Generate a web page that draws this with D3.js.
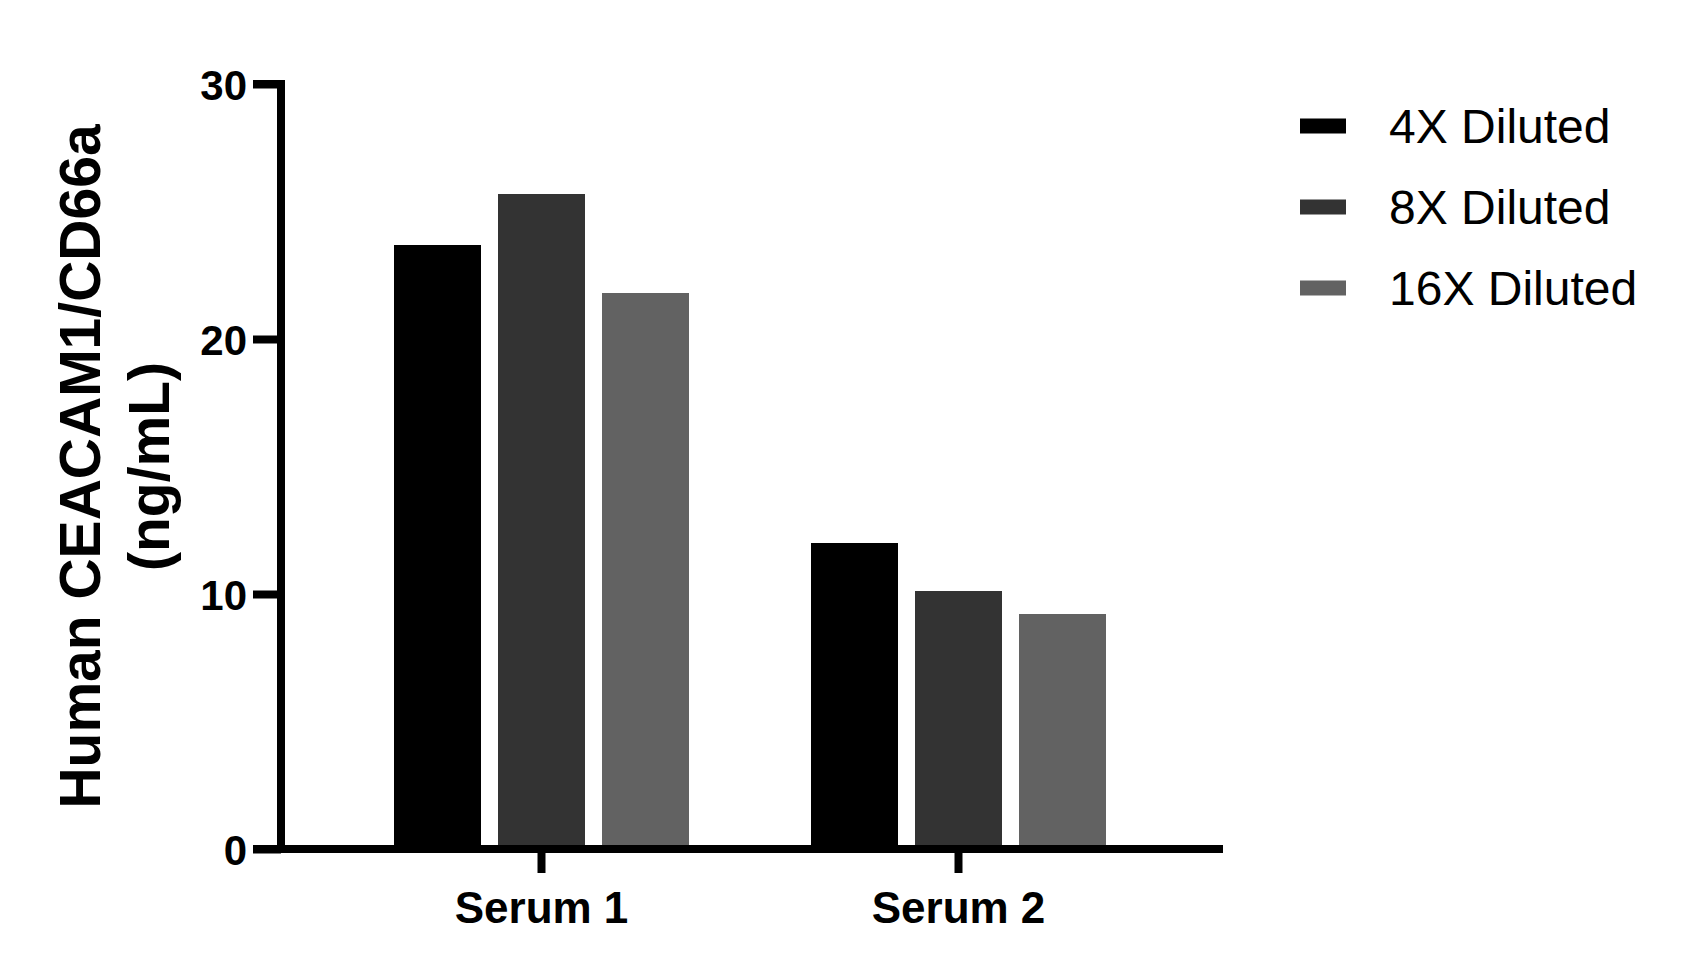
<!DOCTYPE html>
<html>
<head>
<meta charset="utf-8">
<script src="https://cdn.jsdelivr.net/npm/d3@7"></script>
<style>
    html, body { margin: 0; padding: 0; background: #fff; }
    svg text { font-family: Arial, "Liberation Sans", sans-serif; fill: #000; }
</style>
</head>
<body>
<div id="chart"></div>
<script>
// data
const categories = ["Serum 1", "Serum 2"]
const seriesNames = ["4X Diluted", "8X Diluted", "16X Diluted"]
const diluted4x = [23.7, 12.0]
const diluted8x = [25.7, 10.1]
const diluted16x = [21.8, 9.2]
const yTicks = [0, 10, 20, 30]
const colors = ["#000000", "#333333", "#626262"]

const seriesValues = [diluted4x, diluted8x, diluted16x]
const rows = categories.map((c, i) => ({
    category: c,
    values: seriesNames.map((s, j) => ({ key: s, value: seriesValues[j][i], color: colors[j] }))
}))

// svg
const W = 1685, H = 974
const svg = d3.select("#chart").append("svg")
        .attr("width", W)
        .attr("height", H)

const axisX = 281, axisY = 849

// scales
const yScale = d3.scaleLinear()
    .domain([0, 30])
    .range([axisY, 84])

const xScale = d3.scaleBand()
    .domain(categories)
    .range([285, 1215])
    .paddingInner(0.2926)
    .paddingOuter(0.2614)

const x1Scale = d3.scaleBand()
    .domain(seriesNames)
    .range([0, xScale.bandwidth()])
    .paddingInner(0.163)

// bars
const groups = svg.selectAll(".group")
    .data(rows)
    .join("g")
        .attr("class", "group")
        .attr("transform", d => `translate(${xScale(d.category)},0)`)

groups.selectAll("rect")
    .data(d => d.values)
    .join("rect")
        .attr("x", d => x1Scale(d.key))
        .attr("y", d => yScale(d.value))
        .attr("width", x1Scale.bandwidth())
        .attr("height", d => axisY - yScale(d.value))
        .attr("fill", d => d.color)
        .attr("shape-rendering", "crispEdges")

// y axis
const yAx = d3.axisLeft(yScale)
    .tickValues(yTicks)
    .tickSize(28)
    .tickPadding(6)

const yGroup = svg.append("g")
        .attr("class", "y-axis")
        .attr("transform", `translate(${axisX},0)`)
        .call(yAx)

yGroup.select(".domain").remove()
yGroup.selectAll(".tick line")
    .attr("stroke", "#000")
    .attr("stroke-width", 8)
yGroup.selectAll(".tick text")
    .style("font-size", "42px")
    .style("font-weight", "bold")
    .attr("dy", "0.36em")

// x axis
const xAx = d3.axisBottom(xScale)
    .tickSize(24)
    .tickPadding(19)

const xGroup = svg.append("g")
        .attr("class", "x-axis")
        .attr("transform", `translate(0,${axisY})`)
        .call(xAx)

xGroup.select(".domain").remove()
xGroup.selectAll(".tick line")
    .attr("stroke", "#000")
    .attr("stroke-width", 8)
xGroup.selectAll(".tick text")
    .style("font-size", "44px")
    .style("font-weight", "bold")

// axis lines (drawn as one path so the corners join)
svg.append("path")
    .attr("d", `M${axisX - 28},${yScale(30)}H${axisX}V${axisY}`)
    .attr("fill", "none")
    .attr("stroke", "#000")
    .attr("stroke-width", 8)

svg.append("path")
    .attr("d", `M${axisX - 28},${axisY}H1223`)
    .attr("fill", "none")
    .attr("stroke", "#000")
    .attr("stroke-width", 8)

// y label
const yLabel = svg.append("text")
        .attr("transform", `translate(100,${(yScale(0) + yScale(30)) / 2}) rotate(-90)`)
        .style("text-anchor", "middle")
        .style("font-size", "57px")
        .style("font-weight", "bold")

yLabel.append("tspan").attr("x", 0).attr("y", 0).text("Human CEACAM1/CD66a")
yLabel.append("tspan").attr("x", 0).attr("y", 69).text("(ng/mL)")

// legend
const legend = svg.append("g")
        .attr("class", "legend")
        .attr("transform", "translate(1300,126)")

const items = legend.selectAll("g")
    .data(seriesNames)
    .join("g")
        .attr("transform", (d, i) => `translate(0,${i * 81})`)

items.append("rect")
    .attr("x", 0)
    .attr("y", -7.5)
    .attr("width", 46)
    .attr("height", 15)
    .attr("fill", (d, i) => colors[i])

items.append("text")
    .attr("x", 89)
    .attr("y", 17)
    .style("font-size", "48px")
    .text(d => d)
</script>
</body>
</html>
